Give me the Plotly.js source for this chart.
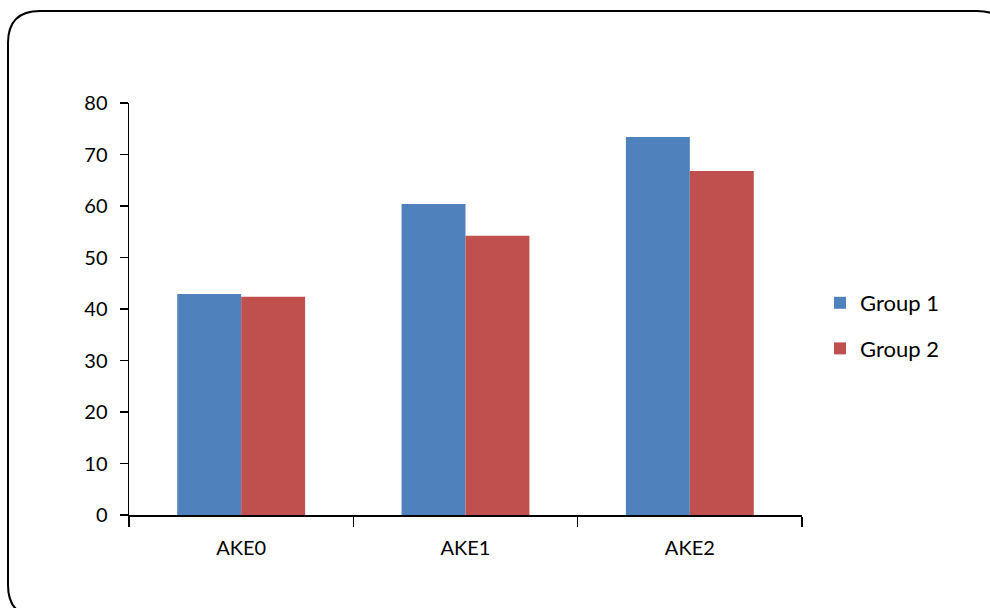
<!DOCTYPE html>
<html>
<head>
<meta charset="utf-8">
<script src="https://cdn.plot.ly/plotly-3.0.1.min.js"></script>
<style>
html,body{margin:0;padding:0;background:#fff;}
#chart{width:990px;height:608px;}
</style>
</head>
<body>
<div id="chart"></div>
<script>
const categories = ["AKE0", "AKE1", "AKE2"];
const seriesNames = ["Group 1", "Group 2"];
const group1 = [42.9, 60.4, 73.4];
const group2 = [42.4, 54.2, 66.8];
const yTicks = [0, 10, 20, 30, 40, 50, 60, 70, 80];
const colors = ["#4F81BD", "#C0504D"];

const W = 990, H = 608;
const M = {l: 129, r: 188, t: 103, b: 93};
const pw = W - M.l - M.r, ph = H - M.t - M.b;
function px(x){ return ((x - M.l) / pw).toFixed(5); }
function py(y){ return ((H - M.b - y) / ph).toFixed(5); }

// rounded frame around the chart (pixel geometry converted to paper coords)
const fx0 = 8, fy0 = 11, fx1 = 1009, fy1 = 617, r = 32;
const framePath =
  `M ${px(fx0)},${py(fy0 + r)} ` +
  `Q ${px(fx0)},${py(fy0)} ${px(fx0 + r)},${py(fy0)} ` +
  `L ${px(fx1 - r)},${py(fy0)} ` +
  `Q ${px(fx1)},${py(fy0)} ${px(fx1)},${py(fy0 + r)} ` +
  `L ${px(fx1)},${py(fy1 - r)} ` +
  `Q ${px(fx1)},${py(fy1)} ${px(fx1 - r)},${py(fy1)} ` +
  `L ${px(fx0 + r)},${py(fy1)} ` +
  `Q ${px(fx0)},${py(fy1)} ${px(fx0)},${py(fy1 - r)} Z`;

const traces = [group1, group2].map((vals, i) => ({
  type: "bar",
  name: seriesNames[i],
  x: categories,
  y: vals,
  marker: {color: colors[i], line: {width: 0}},
  legendgroup: "g" + i,
  hoverinfo: "x+y+name"
}));

const font = {family: "Lato, 'Open Sans', sans-serif", size: 20, color: "#000"};

const layout = {
  width: W, height: H,
  margin: M,
  paper_bgcolor: "#fff",
  plot_bgcolor: "#fff",
  font: font,
  barmode: "group",
  bargap: 0.43,
  bargroupgap: 0,
  showlegend: true,
  legend: {
    x: (820 - M.l) / pw, xanchor: "left",
    y: (H - M.b - 326) / ph, yanchor: "middle",
    font: {family: font.family, size: 22, color: "#000"},
    traceorder: "grouped",
    tracegroupgap: 14,
    itemwidth: 30,
    bgcolor: "rgba(0,0,0,0)"
  },
  xaxis: {
    type: "category",
    showline: true, linecolor: "#000", linewidth: 1.5,
    ticks: "outside", tickson: "boundaries", ticklen: 10, tickwidth: 1.5, tickcolor: "#000",
    showgrid: false, zeroline: false,
    tickfont: font,
    ticklabelstandoff: 14
  },
  yaxis: {
    range: [0, 80],
    tickvals: yTicks,
    ticktext: yTicks.map(String),
    showline: true, linecolor: "#000", linewidth: 1.5,
    ticks: "outside", ticklen: 8, tickwidth: 1.5, tickcolor: "#000",
    showgrid: false, zeroline: false,
    tickfont: font,
    ticklabelstandoff: 8
  },
  shapes: [{
    type: "path", xref: "paper", yref: "paper",
    path: framePath,
    line: {color: "#000", width: 2},
    fillcolor: "rgba(0,0,0,0)",
    layer: "below"
  }]
};

Plotly.newPlot("chart", traces, layout, {displayModeBar: false, staticPlot: true});
</script>
</body>
</html>
